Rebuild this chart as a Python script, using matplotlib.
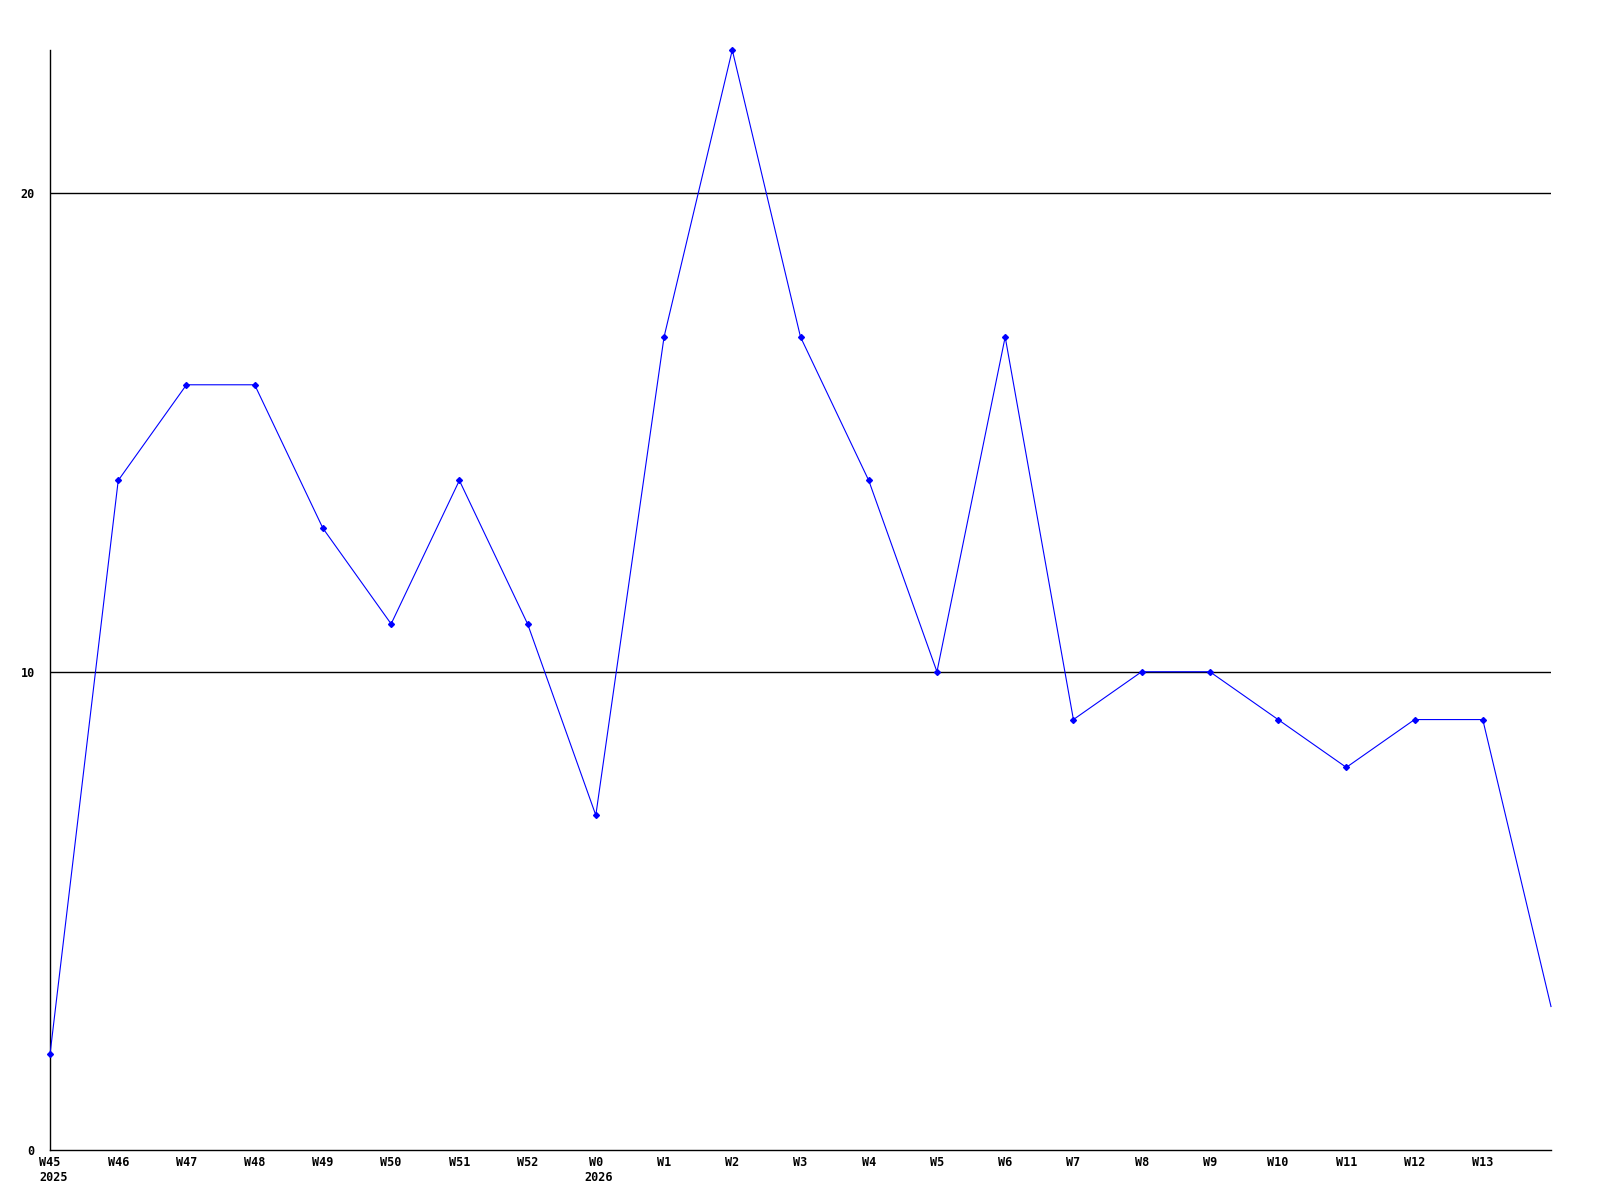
import matplotlib
matplotlib.use("Agg")
import matplotlib.pyplot as plt
from matplotlib.transforms import blended_transform_factory, ScaledTranslation

weeks = ["W45", "W46", "W47", "W48", "W49", "W50", "W51", "W52", "W0", "W1", "W2",
         "W3", "W4", "W5", "W6", "W7", "W8", "W9", "W10", "W11", "W12", "W13", ""]
values = [2, 14, 16, 16, 13, 11, 14, 11, 7, 17, 23, 17, 14, 10, 17, 9, 10, 10, 9, 8, 9, 9, 3]
year_labels = {0: "2025", 8: "2026"}
y_ticks = [0, 10, 20]

font = dict(family="DejaVu Sans Mono", weight="bold", size=8.5)

fig = plt.figure(figsize=(16, 12), dpi=100)
ax = fig.add_axes([50 / 1600, 50 / 1200, 1501 / 1600, 1100 / 1200])

x = list(range(len(values)))
ax.plot(x, values, color="#0000ff", linewidth=0.8, marker="D", markersize=3,
        markevery=list(range(len(values) - 1)), zorder=3, clip_on=False)

for yt in y_ticks[1:]:
    ax.axhline(yt, color="black", linewidth=1.0, zorder=1)

ax.set_xlim(0, len(values) - 1)
ax.set_ylim(0, 23)

ax.set_yticks(y_ticks)
ax.set_yticklabels([str(v) for v in y_ticks], **font)
ax.set_xticks(x)
ax.set_xticklabels(weeks, **font)
ax.tick_params(axis="both", length=0)
ax.tick_params(axis="y", pad=11)
ax.tick_params(axis="x", pad=4)

for sp in ["top", "right"]:
    ax.spines[sp].set_visible(False)
for sp in ["left", "bottom"]:
    ax.spines[sp].set_color("black")
    ax.spines[sp].set_linewidth(1.0)

trans = blended_transform_factory(ax.transData, ax.transAxes)
for idx, yr in year_labels.items():
    off = ScaledTranslation(-11 / 100, -21 / 100, fig.dpi_scale_trans)
    ax.text(idx, 0, yr, transform=trans + off, ha="left", va="top", **font)

fig.savefig("out.png", dpi=100, facecolor="white")
